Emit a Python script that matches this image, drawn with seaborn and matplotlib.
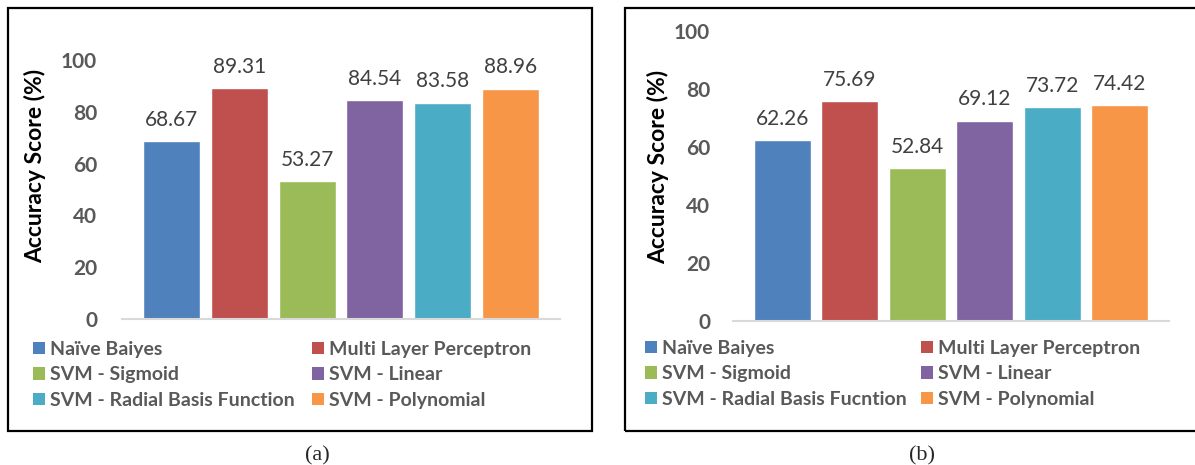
import matplotlib
matplotlib.use("Agg")
import matplotlib.pyplot as plt
from matplotlib.patches import Patch, Rectangle
import seaborn as sns
import pandas as pd

# Classifier names for each panel (panel b keeps its own label text)
models_a = ["Naïve Baiyes", "Multi Layer Perceptron", "SVM - Sigmoid",
            "SVM - Linear", "SVM - Radial Basis Function", "SVM - Polynomial"]
models_b = ["Naïve Baiyes", "Multi Layer Perceptron", "SVM - Sigmoid",
            "SVM - Linear", "SVM - Radial Basis Fucntion", "SVM - Polynomial"]

# Accuracy scores (%)
acc_a = [68.67, 89.31, 53.27, 84.54, 83.58, 88.96]
acc_b = [62.26, 75.69, 52.84, 69.12, 73.72, 74.42]

y_ticks = [0, 20, 40, 60, 80, 100]
captions = ["(a)", "(b)"]

colors = ["#4F81BD", "#C0504D", "#9BBB59", "#8064A2", "#4BACC6", "#F79646"]

sns.set_theme(style="white")
plt.rcParams["font.family"] = ["Lato", "DejaVu Sans"]

W, H = 1195, 465
fig = plt.figure(figsize=(W / 100, H / 100), dpi=100)


def px(x0, y_top, x1, y_bot):
    """Pixel box (top-left origin) to figure-fraction rect."""
    return [x0 / W, (H - y_bot) / H, (x1 - x0) / W, (y_bot - y_top) / H]


panels = [
    dict(models=models_a, acc=acc_a, rect=px(122, 60, 560, 319), box=(8, 8, 592, 431),
         tickpad=18, ylab=(-0.1735, 0.59), leg=(33, 341), colsp=0.9, cap=(317, 456)),
    dict(models=models_b, acc=acc_b, rect=px(733, 31, 1169, 321), box=(625, 8, 1197, 431),
         tickpad=16.5, ylab=(-0.1468, 0.53), leg=(645, 340), colsp=0.75, cap=(922, 456)),
]

# legend fills columns first; this order gives row-wise reading
leg_order = [0, 2, 4, 1, 3, 5]

for p, cap in zip(panels, captions):
    ax = fig.add_axes(p["rect"])
    df = pd.DataFrame({"model": p["models"], "acc": p["acc"]})
    sns.barplot(data=df, x="model", y="acc", hue="model", palette=colors,
                width=0.84, legend=False, ax=ax, saturation=1)
    for cont in ax.containers:
        ax.bar_label(cont, fmt="%.2f", padding=8, fontsize=15, color="#404040")
    ax.set_xlim(-0.73, 5.73)
    ax.set_ylim(0, 100)
    ax.set_yticks(y_ticks)
    ax.tick_params(axis="y", length=0, pad=p["tickpad"], labelsize=15,
                   labelcolor="#595959")
    for t in ax.get_yticklabels():
        t.set_fontweight("bold")
    ax.set_xticks([])
    ax.set_xlabel("")
    ax.set_ylabel("Accuracy Score (%)", fontsize=16.5, fontweight="bold", color="black")
    ax.yaxis.set_label_coords(*p["ylab"])
    for s in ["left", "right", "top"]:
        ax.spines[s].set_visible(False)
    ax.spines["bottom"].set_color("#D9D9D9")
    ax.spines["bottom"].set_linewidth(1.5)
    ax.set_facecolor("none")

    handles = [Patch(facecolor=c, edgecolor="none", label=m)
               for c, m in zip(colors, p["models"])]
    handles = [handles[i] for i in leg_order]
    lx, ly = p["leg"]
    leg = fig.legend(handles=handles, ncol=2, loc="upper left",
                     bbox_to_anchor=(lx / W, (H - ly) / H), frameon=False,
                     fontsize=14, handlelength=0.62, handleheight=0.62,
                     handletextpad=0.25, labelspacing=0.43, columnspacing=p["colsp"],
                     borderpad=0, borderaxespad=0)
    for t in leg.get_texts():
        t.set_fontweight("bold")
        t.set_color("#595959")

    x0, y0, x1, y1 = p["box"]
    fig.patches.append(Rectangle((x0 / W, (H - y1) / H), (x1 - x0) / W, (y1 - y0) / H,
                                 transform=fig.transFigure, fill=False,
                                 edgecolor="black", linewidth=1.6))
    cx, cy = p["cap"]
    fig.text(cx / W, (H - cy) / H, cap, ha="center", va="center", fontsize=16,
             family=["Liberation Serif", "DejaVu Serif"])

fig.savefig("out.png", dpi=100)
